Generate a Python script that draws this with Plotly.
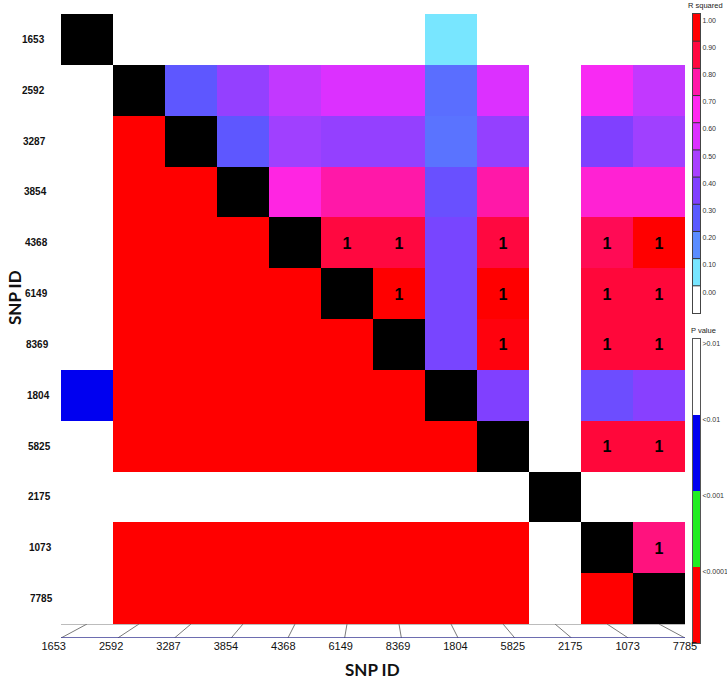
import plotly.graph_objects as go

W, H = 727, 679

snp_ids = ["1653", "2592", "3287", "3854", "4368", "6149",
           "8369", "1804", "5825", "2175", "1073", "7785"]

# upper triangle: R squared, one list per row for the columns right of the diagonal
r2_rows = [
    [0.0, 0.0, 0.0, 0.0, 0.0, 0.0, 0.10, 0.0, 0.0, 0.0, 0.0],
    [0.31, 0.45, 0.55, 0.60, 0.60, 0.26, 0.60, 0.0, 0.68, 0.55],
    [0.31, 0.48, 0.45, 0.45, 0.25, 0.45, 0.0, 0.40, 0.48],
    [0.72, 0.80, 0.80, 0.34, 0.80, 0.0, 0.74, 0.74],
    [0.90, 0.90, 0.38, 0.90, 0.0, 0.88, 1.00],
    [1.00, 0.38, 1.00, 0.0, 0.91, 0.91],
    [0.38, 0.98, 0.0, 0.91, 0.91],
    [0.40, 0.0, 0.35, 0.42],
    [0.0, 0.91, 0.91],
    [0.0, 0.0],
    [0.84],
    [],
]

# cells marked with "1" (row, column)
ones = [(4, 5), (4, 6), (4, 8), (4, 10), (4, 11),
        (5, 6), (5, 8), (5, 10), (5, 11),
        (6, 8), (6, 10), (6, 11),
        (8, 10), (8, 11),
        (10, 11)]

# lower triangle: P value class (0: >0.01, 1: <0.01, 2: <0.001, 3: <0.0001)
p_rows = [
    [],
    [0],
    [0, 3],
    [0, 3, 3],
    [0, 3, 3, 3],
    [0, 3, 3, 3, 3],
    [0, 3, 3, 3, 3, 3],
    [1, 3, 3, 3, 3, 3, 3],
    [0, 3, 3, 3, 3, 3, 3, 3],
    [0, 0, 0, 0, 0, 0, 0, 0, 0],
    [0, 3, 3, 3, 3, 3, 3, 3, 3, 0],
    [0, 3, 3, 3, 3, 3, 3, 3, 3, 0, 3],
]

r2_bins = [0.0, 0.1, 0.2, 0.3, 0.4, 0.5, 0.6, 0.7, 0.8, 0.9, 1.0]
r2_labels = ["0.00", "0.10", "0.20", "0.30", "0.40", "0.50",
             "0.60", "0.70", "0.80", "0.90", "1.00"]
p_labels = [">0.01", "<0.01", "<0.001", "<0.0001"]

r2_colors = ["#ffffff", "#78e6ff", "#5a8cff", "#5a5aff", "#8040ff", "#a840ff",
             "#dc30ff", "#ff28f0", "#ff18a8", "#ff0840", "#ff0000"]
p_colors = ["#ffffff", "#0000f0", "#22ee22", "#ff0000"]

n = len(snp_ids)
r2 = [[None] * n for _ in range(n)]
pv = [[None] * n for _ in range(n)]
diag = [[None] * n for _ in range(n)]
txt = [[""] * n for _ in range(n)]
for i in range(n):
    for k, v in enumerate(r2_rows[i]):
        r2[i][i + 1 + k] = v
    for k, v in enumerate(p_rows[i]):
        pv[i][k] = v
    diag[i][i] = 1
for i, j in ones:
    txt[i][j] = "1"

r2_scale = [[b, c] for b, c in zip(r2_bins, r2_colors)]
p_scale = []
for k, c in enumerate(p_colors):
    p_scale += [[k / 4, c], [(k + 1) / 4, c]]

def px_x(v):
    return v / W

def px_y(v):
    return 1 - v / H

fig = go.Figure()

idx = list(range(n))
fig.add_trace(go.Heatmap(z=r2, x=idx, y=idx, colorscale=r2_scale, zmin=0, zmax=1,
                         showscale=False, text=txt, texttemplate="%{text}",
                         textfont=dict(size=16, color="black", family="Liberation Sans", weight="bold"),
                         hoverinfo="skip"))
fig.add_trace(go.Heatmap(z=pv, x=idx, y=idx, colorscale=p_scale, zmin=-0.5, zmax=3.5,
                         showscale=False, hoverinfo="skip"))
fig.add_trace(go.Heatmap(z=diag, x=idx, y=idx, colorscale=[[0, "black"], [1, "black"]],
                         showscale=False, hoverinfo="skip"))

# R squared legend bar
fig.add_trace(go.Heatmap(z=[[b] for b in r2_bins], x=[0], y=list(range(len(r2_bins))),
                         colorscale=r2_scale, zmin=0, zmax=1, showscale=False,
                         xaxis="x2", yaxis="y2", hoverinfo="skip"))
# P value legend bar (top class first)
fig.add_trace(go.Heatmap(z=[[3], [2], [1], [0]], x=[0], y=[0, 1, 2, 3],
                         colorscale=p_scale, zmin=-0.5, zmax=3.5, showscale=False,
                         xaxis="x3", yaxis="y3", hoverinfo="skip"))

# perspective floor under the matrix
bottom = [-0.5 + i * 12 / 11 for i in range(n)]
label_pos = [b - 0.14 * (n - 1 - i) / (n - 1) for i, b in enumerate(bottom)]
fx, fy = [-0.5, 11.5, None], [1, 1, None]
for i in range(n):
    fx += [i, bottom[i], None]
    fy += [1, 0, None]
fig.add_trace(go.Scatter(x=fx, y=fy, mode="lines", line=dict(color="#7a7a7a", width=1),
                         xaxis="x4", yaxis="y4", cliponaxis=False, hoverinfo="skip",
                         showlegend=False))
fig.add_trace(go.Scatter(x=[bottom[0], bottom[-1]], y=[0, 0], mode="lines",
                         line=dict(color="#3c3c96", width=1.5),
                         xaxis="x4", yaxis="y4", cliponaxis=False, hoverinfo="skip",
                         showlegend=False))

xdom = [px_x(61), px_x(685)]
fig.update_layout(
    width=W, height=H,
    margin=dict(l=0, r=0, t=0, b=0),
    paper_bgcolor="white", plot_bgcolor="rgba(0,0,0,0)",
    showlegend=False,
    font=dict(family="Liberation Sans", color="#111"),
    xaxis=dict(domain=xdom, range=[-0.5, 11.5], showticklabels=False, showgrid=False,
               zeroline=False, ticks="", anchor="y"),
    yaxis=dict(domain=[px_y(624), px_y(14)], range=[11.5, -0.5], showticklabels=False,
               showgrid=False, zeroline=False, ticks="", anchor="x"),
    xaxis2=dict(domain=[px_x(693), px_x(700)], range=[-0.5, 0.5], showticklabels=False,
                showgrid=False, zeroline=False, showline=True, mirror=True,
                linecolor="#444", linewidth=1, anchor="y2"),
    yaxis2=dict(domain=[px_y(313), px_y(14)], range=[-0.5, 10.5], side="right",
                tickvals=[k + 0.27 for k in range(len(r2_bins))], ticktext=r2_labels,
                tickfont=dict(size=7, color="#333"), showgrid=False, zeroline=False,
                showline=True, mirror=True, linecolor="#444", linewidth=1, anchor="x2"),
    xaxis3=dict(domain=[px_x(693), px_x(700)], range=[-0.5, 0.5], showticklabels=False,
                showgrid=False, zeroline=False, showline=True, mirror=True,
                linecolor="#555", linewidth=1, anchor="y3"),
    yaxis3=dict(domain=[px_y(643), px_y(339)], range=[-0.5, 3.5], side="right",
                tickvals=[k + 0.44 for k in range(4)], ticktext=p_labels[::-1],
                tickfont=dict(size=7, color="#333"), showgrid=False, zeroline=False,
                showline=True, mirror=True, linecolor="#555", linewidth=1, anchor="x3"),
    xaxis4=dict(domain=[px_x(35), px_x(711)], range=[-1, 12], tickvals=label_pos, ticktext=snp_ids,
                tickfont=dict(size=11, color="#111"), showgrid=False, zeroline=False,
                showline=False, ticks="", anchor="y4"),
    yaxis4=dict(domain=[px_y(638), px_y(624)], range=[0, 1], visible=False, anchor="x4"),
)

# bin separators in the R squared legend
for k in range(len(r2_bins) - 1):
    fig.add_shape(type="line", xref="x2 domain", yref="y2", x0=0, x1=1, y0=k + 0.5, y1=k + 0.5,
                  line=dict(color="#333", width=1))

# row labels, drifting right slightly as in the original perspective
for i, s in enumerate(snp_ids):
    fig.add_annotation(x=px_x(33 + i * 8.5 / 11), y=i, xref="paper", yref="y", text="<b>" + s + "</b>",
                       showarrow=False, font=dict(size=10, color="#111"),
                       xanchor="center", yanchor="middle")

fig.add_annotation(x=px_x(14), y=px_y(298), xref="paper", yref="paper", text="<b>SNP ID</b>",
                   textangle=-90, showarrow=False, xanchor="center", yanchor="middle",
                   font=dict(family="Lato", size=17, color="#111"))
fig.add_annotation(x=px_x(373), y=px_y(669), xref="paper", yref="paper", text="<b>SNP ID</b>",
                   showarrow=False, xanchor="center", yanchor="middle",
                   font=dict(family="Lato", size=17, color="#111"))
fig.add_annotation(x=px_x(705), y=px_y(6), xref="paper", yref="paper", text="R squared",
                   showarrow=False, xanchor="center", yanchor="middle",
                   font=dict(size=7.5, color="#222"))
fig.add_annotation(x=px_x(703), y=px_y(330), xref="paper", yref="paper", text="P value",
                   showarrow=False, xanchor="center", yanchor="middle",
                   font=dict(size=7.5, color="#222"))

# drop the default page margin so the figure sits at the window's corner
fig.write_html("out.html", config={"displayModeBar": False},
               post_script="document.body.style.margin='0';document.body.style.overflow='hidden';")
